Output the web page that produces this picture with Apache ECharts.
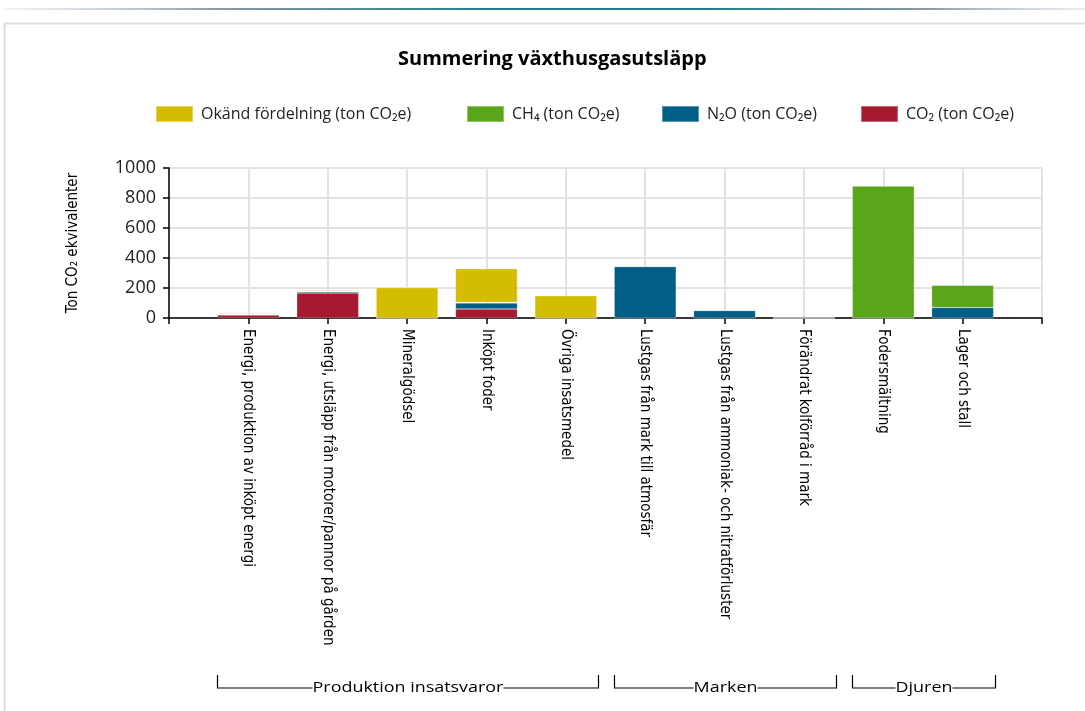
<!DOCTYPE html>
<html>
<head>
<meta charset="utf-8">
<script src="https://cdn.jsdelivr.net/npm/echarts@6/dist/echarts.min.js"></script>
<style>
  html, body { margin: 0; padding: 0; background: #fff; }
  #chart { width: 1085px; height: 711px; }
</style>
</head>
<body>
<div id="chart"></div>
<script>
// ---- Data ----
const categories = [
  'Energi, produktion av inköpt energi',
  'Energi, utsläpp från motorer/pannor på gården',
  'Mineralgödsel',
  'Inköpt foder',
  'Övriga insatsmedel',
  'Lustgas från mark till atmosfär',
  'Lustgas från ammoniak- och nitratförluster',
  'Förändrat kolförråd i mark',
  'Fodersmältning',
  'Lager och stall'
];
const seriesNames = ['Okänd fördelning (ton CO₂e)', 'CH₄ (ton CO₂e)', 'N₂O (ton CO₂e)', 'CO₂ (ton CO₂e)'];
const okand = [0, 7, 202, 224, 148, 0, 0, 0, 0, 0];
const ch4   = [6, 3, 0, 4, 0, 0, 0, 0, 880, 149];
const n2o   = [4, 9, 0, 40, 0, 343, 50, 0, 0, 70];
const co2   = [20, 167, 0, 60, 0, 0, 0, 0, 0, 0];
const yMin = 0, yMax = 1000, yInterval = 200;
const groups = [
  { name: 'Produktion insatsvaror', from: 0, to: 4 },
  { name: 'Marken', from: 5, to: 7 },
  { name: 'Djuren', from: 8, to: 9 }
];
const colors = { okand: '#d4bd00', ch4: '#5aa51a', n2o: '#005e87', co2: '#a51a30' };

// padded with an empty slot at both ends (axis runs from slot 0 to slot 11)
const pad = arr => [null, ...arr, null];
const xData = ['', ...categories, ''];

const chart = echarts.init(document.getElementById('chart'));
const narrow = "'Liberation Sans Narrow', 'DejaVu Sans Condensed', 'Liberation Sans', sans-serif";
const ui = "'Open Sans', 'Noto Sans', sans-serif";

function bar(name, data, color) {
  return {
    name, type: 'bar', stack: 'total', data: pad(data), barWidth: 62,
    itemStyle: { color, borderColor: 'rgba(255,255,255,0.35)', borderWidth: 0.6 },
    emphasis: { disabled: true }
  };
}

// one legend block per item so the items sit where the reference has them
const legendLefts = [155, 466, 661, 860];
const legends = seriesNames.map((n, i) => ({
  data: [n],
  left: legendLefts[i], top: 105, padding: 0,
  itemWidth: 37, itemHeight: 16,
  icon: 'rect',
  textStyle: { fontFamily: ui, fontSize: 16, color: '#222', padding: [0, 0, 0, 3] }
}));

const option = {
  animation: false,
  title: {
    text: 'Summering växthusgasutsläpp',
    left: 393, top: 44,
    textStyle: { fontFamily: ui, fontWeight: 'bold', fontSize: 20, color: '#000' }
  },
  legend: legends,
  grid: { left: 169, right: 43, top: 168, bottom: 393, containLabel: false },
  xAxis: {
    type: 'category',
    data: xData,
    boundaryGap: false,
    axisLine: { lineStyle: { color: '#000', width: 1.5 } },
    axisTick: { show: true, interval: 0, length: 6, lineStyle: { color: '#000', width: 1.5 } },
    axisLabel: {
      interval: 0, rotate: -90, margin: 11,
      fontFamily: narrow, fontSize: 15, color: '#000'
    },
    splitLine: { show: true, interval: 0, lineStyle: { color: '#e2e2e2', width: 2 } }
  },
  yAxis: {
    type: 'value',
    min: yMin, max: yMax, interval: yInterval,
    name: 'Ton CO₂ ekvivalenter',
    nameLocation: 'middle', nameGap: 88, nameRotate: 90,
    nameTextStyle: { fontFamily: narrow, fontSize: 15, color: '#000' },
    axisLine: { show: true, lineStyle: { color: '#000', width: 1.5 } },
    axisTick: { show: true, length: 6, lineStyle: { color: '#000', width: 1.5 } },
    axisLabel: { fontFamily: ui, fontSize: 18, color: '#222', margin: 13, formatter: v => String(v) },
    splitLine: { show: true, lineStyle: { color: '#e2e2e2', width: 2 } }
  },
  series: [
    bar(seriesNames[3], co2, colors.co2),
    bar(seriesNames[2], n2o, colors.n2o),
    bar(seriesNames[1], ch4, colors.ch4),
    bar(seriesNames[0], okand, colors.okand)
  ]
};
chart.setOption(option);

// ---- decorative frame + group brackets (positions derived from the axis) ----
const graphics = [
  {
    type: 'line', silent: true,
    shape: { x1: 5, y1: 9, x2: 1085, y2: 9 },
    style: {
      lineWidth: 2,
      stroke: new echarts.graphic.LinearGradient(0, 0, 1, 0, [
        { offset: 0, color: 'rgba(200,210,220,0.3)' },
        { offset: 0.2, color: '#8a98a8' },
        { offset: 0.45, color: '#1d7f8c' },
        { offset: 0.65, color: '#1d7f8c' },
        { offset: 0.85, color: '#8a98a8' },
        { offset: 1, color: 'rgba(200,210,220,0.4)' }
      ])
    }
  },
  {
    type: 'rect', silent: true,
    shape: { x: 4.5, y: 23.5, width: 1200, height: 800 },
    style: { fill: 'none', stroke: '#dcdcdc', lineWidth: 2 }
  }
];
const xAt = i => chart.convertToPixel({ xAxisIndex: 0 }, i + 1);
const band = xAt(1) - xAt(0);
const yTop = 675, yLine = 688;
groups.forEach(g => {
  const x1 = Math.round(xAt(g.from) - band * 0.39) + 0.5;
  const x2 = Math.round(xAt(g.to) + band * 0.41) + 0.5;
  graphics.push({
    type: 'polyline', silent: true,
    shape: { points: [[x1, yTop], [x1, yLine], [x2, yLine], [x2, yTop]] },
    style: { stroke: '#000', lineWidth: 1.2, fill: 'none' }
  });
  graphics.push({
    type: 'text', silent: true,
    x: (x1 + x2) / 2, y: yLine, scaleX: 1.28,
    style: {
      text: g.name, fontFamily: ui, fontSize: 14, fill: '#000',
      align: 'center', verticalAlign: 'middle',
      backgroundColor: '#fff', padding: [0, 0]
    },
    z: 10
  });
});
chart.setOption({ graphic: graphics });
</script>
</body>
</html>
